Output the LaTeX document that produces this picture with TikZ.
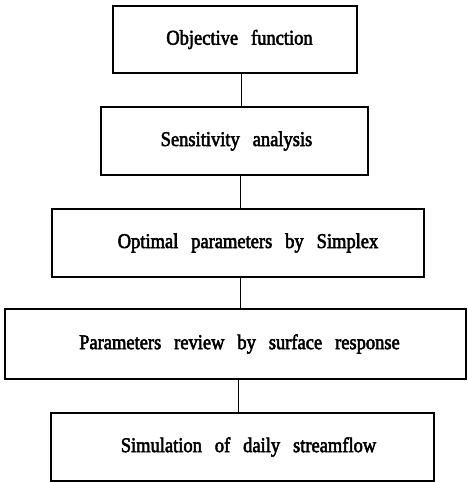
\documentclass[tikz,border=0pt]{standalone}
\usepackage{fontspec}
\setmainfont[FakeStretch=0.88, WordSpace=2.8, FakeBold=2.5]{Liberation Serif}
\begin{document}
\begin{tikzpicture}[x=1pt,y=-1pt,
  stepbox/.style={draw=black, line width=1.5pt, rectangle, inner sep=0pt, font=\fontsize{21}{24}\selectfont},
  link/.style={draw=black, line width=1.5pt}]
\useasboundingbox (0,0) rectangle (467,482);
\node[stepbox, minimum width=244pt, minimum height=67pt] (b1) at (235,39.5) {\hspace*{9pt}Objective function};
\node[stepbox, minimum width=267pt, minimum height=68pt] (b2) at (234.5,141) {\hspace*{4pt}Sensitivity analysis};
\node[stepbox, minimum width=372pt, minimum height=68pt] (b3) at (238,243) {\hspace*{20pt}Optimal parameters by Simplex};
\node[stepbox, minimum width=461pt, minimum height=70pt] (b4) at (235.5,344) {\hspace*{8pt}Parameters review by surface response};
\node[stepbox, minimum width=383pt, minimum height=68pt] (b5) at (242.5,447) {\hspace*{12pt}Simulation of daily streamflow};
\coordinate (s1) at (241.5,0);
\coordinate (s2) at (240.5,0);
\coordinate (s3) at (240.5,0);
\coordinate (s4) at (238.5,0);
\draw[link] (b1.south -| s1) -- (b2.north -| s1);
\draw[link] (b2.south -| s2) -- (b3.north -| s2);
\draw[link] (b3.south -| s3) -- (b4.north -| s3);
\draw[link] (b4.south -| s4) -- (b5.north -| s4);
\end{tikzpicture}
\end{document}
